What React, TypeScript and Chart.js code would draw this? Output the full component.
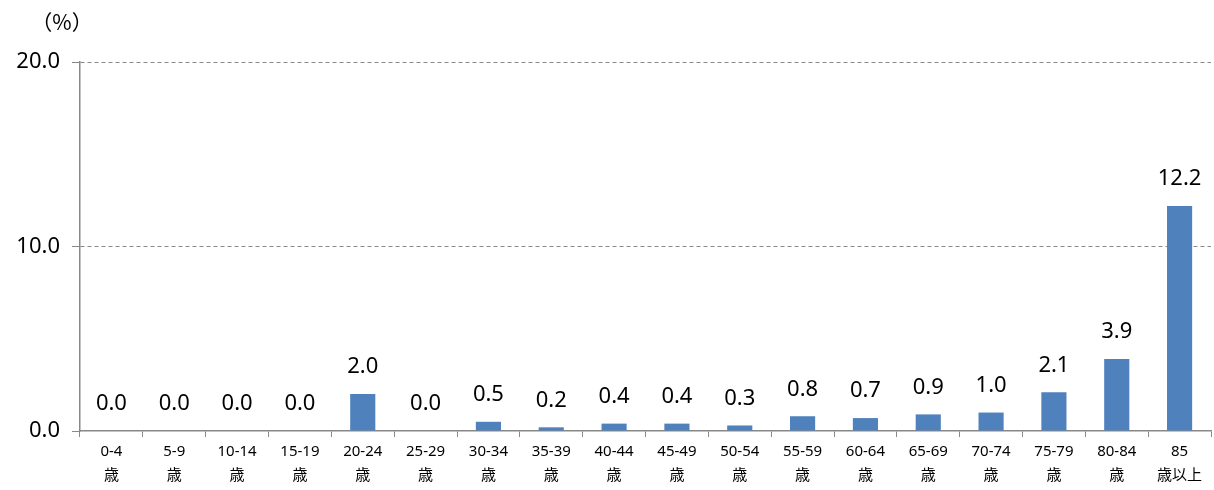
import React, { useEffect, useRef } from "react";
import { Chart, registerables } from "chart.js";
Chart.register(...registerables);

const categories: string[][] = [
  ["0-4", "歳"], ["5-9", "歳"], ["10-14", "歳"], ["15-19", "歳"], ["20-24", "歳"],
  ["25-29", "歳"], ["30-34", "歳"], ["35-39", "歳"], ["40-44", "歳"], ["45-49", "歳"],
  ["50-54", "歳"], ["55-59", "歳"], ["60-64", "歳"], ["65-69", "歳"], ["70-74", "歳"],
  ["75-79", "歳"], ["80-84", "歳"], ["85", "歳以上"],
];
const values: number[] = [0.0, 0.0, 0.0, 0.0, 2.0, 0.0, 0.5, 0.2, 0.4, 0.4, 0.3, 0.8, 0.7, 0.9, 1.0, 2.1, 3.9, 12.2];
const yTicks: number[] = [0, 10, 20];
const unitLabel = "（%）";

const FONT = "'Noto Sans', 'Noto Sans CJK JP', sans-serif";

const labelPlugin = {
  id: "labels",
  afterDatasetsDraw(chart: any) {
    const ctx = chart.ctx;
    const meta = chart.getDatasetMeta(0);
    ctx.save();
    ctx.fillStyle = "#000";
    ctx.font = `22px ${FONT}`;
    ctx.textAlign = "center";
    ctx.textBaseline = "middle";
    meta.data.forEach((bar: any, i: number) => {
      ctx.fillText(values[i].toFixed(1), bar.x, bar.y - 27);
    });
    ctx.font = `21px 'Noto Sans CJK JP', sans-serif`;
    ctx.fillText(unitLabel, 62, 22);
    ctx.restore();
  },
};

export default function App() {
  const ref = useRef<HTMLCanvasElement>(null);
  useEffect(() => {
    document.body.style.margin = "0";
    const chart = new Chart(ref.current!, {
      type: "bar",
      data: {
        labels: categories,
        datasets: [
          {
            data: values,
            backgroundColor: "#4F81BD",
            barPercentage: 0.4,
            categoryPercentage: 1,
          },
        ],
      },
      options: {
        animation: false,
        responsive: false,
        layout: { padding: { top: 62, right: 3, bottom: 0, left: 0 } },
        plugins: { legend: { display: false }, tooltip: { enabled: false } },
        scales: {
          x: {
            grid: {
              offset: true,
              drawOnChartArea: false,
              drawTicks: true,
              tickLength: 6,
              tickColor: "#888",
            },
            border: { color: "#888", width: 1.5 },
            ticks: {
              color: "#000",
              font: { size: 15, family: FONT, lineHeight: 1.6 },
              padding: 3,
              maxRotation: 0,
              autoSkip: false,
            },
            afterFit(scale: any) {
              scale.height = 59;
            },
          },
          y: {
            min: 0,
            max: 20,
            afterBuildTicks(scale: any) {
              scale.ticks = yTicks.map((v) => ({ value: v }));
            },
            grid: {
              color: (c: any) => (c.tick && c.tick.value === 0 ? "rgba(0,0,0,0)" : "#888"),
              tickColor: "#888",
              tickLength: 8,
              tickBorderDash: [],
            },
            border: { color: "#888", width: 1.5, dash: [4, 3] } as any,
            ticks: {
              color: "#000",
              font: { size: 22, family: FONT },
              padding: 12,
              callback: (v: any) => Number(v).toFixed(1),
            },
            afterFit(scale: any) {
              scale.width = 80;
            },
          },
        },
      } as any,
      plugins: [labelPlugin],
    });
    return () => chart.destroy();
  }, []);
  return (
    <div style={{ position: "absolute", left: 0, top: 0, width: 1214, height: 490 }}>
      <canvas ref={ref} width={1214} height={490} />
    </div>
  );
}
